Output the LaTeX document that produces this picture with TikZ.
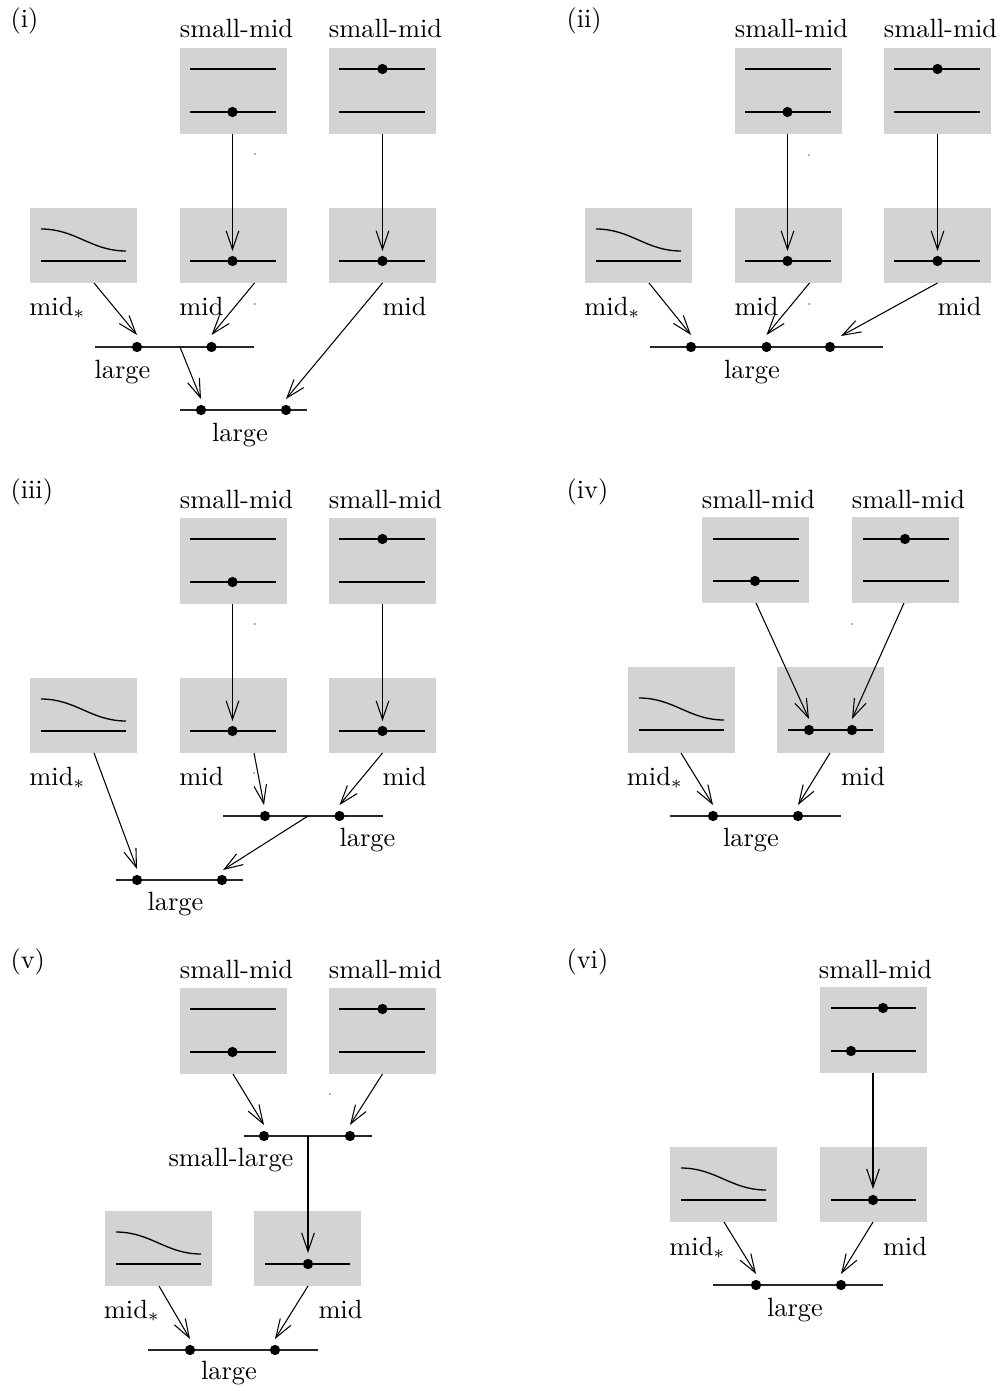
\documentclass[tikz,border=0pt]{standalone}
\usetikzlibrary{arrows.meta,calc}
\definecolor{boxgray}{RGB}{211,211,211}
\newcommand{\smrow}[3]{%
\begin{scope}[shift={(#2,#3)}]
\node[lab] (#1ta) at (236.5,38) {small-mid};
\node[lab] (#1tb) at (385.5,38) {small-mid};
\node[tallbox] (#1A) at (233.5,91) {};
\node[tallbox] (#1B) at (382.5,91) {};
\draw[hl] (190,69) -- (276,69) (190,112) -- (276,112) (339,69) -- (425,69) (339,112) -- (425,112);
\node[dotn] (#1Ad) at (232.5,112) {};
\node[dotn] (#1Bd) at (382.5,69) {};
\end{scope}}
\newcommand{\midrow}[3]{%
\begin{scope}[shift={(#2,#3)}]
\node[shortbox] (#1S) at (83.5,245.5) {};
\draw[hl] (41,229) .. controls (76,229) and (91,251) .. (126,251);
\draw[hl] (41,261) -- (126,261);
\node[shortbox] (#1M) at (233.5,245.5) {};
\node[shortbox] (#1N) at (382.5,245.5) {};
\draw[hl] (190,261) -- (276,261) (339,261) -- (425,261);
\node[dotn] (#1Md) at (232.5,261) {};
\node[dotn] (#1Nd) at (382.5,261) {};
\node[lab] (#1ls) at (57.5,315) {mid$_*$};
\node[lab] (#1lm) at (201.5,315) {mid};
\node[lab] (#1ln) at (404.5,315) {mid};
\end{scope}
\draw[arr] (#1A.south -| #1Ad) -- ($(#1Md)+(0,-10)$);
\draw[arr] (#1B.south -| #1Bd) -- ($(#1Nd)+(0,-10)$);}
\begin{document}
\begin{tikzpicture}[x=0.37879pt,y=-0.37879pt,
  gbox/.style={fill=boxgray,draw=none,inner sep=0pt,outer sep=0pt,minimum width=40.53pt},
  tallbox/.style={gbox,minimum height=32.58pt},
  shortbox/.style={gbox,minimum height=28.41pt},
  hl/.style={line width=0.5pt},
  ll/.style={line width=0.45pt,black!85},
  dotn/.style={circle,fill=black,inner sep=0pt,outer sep=0pt,minimum size=3.9pt},
  arr/.style={line width=0.4pt,-{Straight Barb[length=7pt,width=4.8pt]}},
  lab/.style={anchor=base,inner sep=0pt},
  plab/.style={anchor=base west,inner sep=0pt},
  speck/.style={fill=black!60}
]
\useasboundingbox (0,0) rectangle (1002,1391);

% ---------------- (i)
\node[plab] (p1) at (10,28) {(i)};
\smrow{i-}{0}{0}
\midrow{i-}{0}{0}
\draw[ll] (95,347) -- (254,347);
\node[dotn] (i-a) at (137,347) {};
\node[dotn] (i-b) at (211.5,347) {};
\coordinate (i-m) at (180,347);
\node[lab] (i-l1) at (122.5,378) {large};
\coordinate (i-Ss) at (94,283);
\coordinate (i-Ms) at (254.5,283);
\coordinate (i-Ns) at (382.5,283);
\draw[arr] (i-Ss) -- ($(i-a)+(0,-12)$);
\draw[arr] (i-Ms) -- ($(i-b)+(0,-12)$);
\draw[ll] (180,410) -- (307,410);
\node[dotn] (i-c) at (201,410) {};
\node[dotn] (i-d) at (286,410) {};
\node[lab] (i-l2) at (240,441) {large};
\draw[arr] (i-m) -- ($(i-c)+(0,-11)$);
\draw[arr] (i-Ns) -- ($(i-d)+(0,-11)$);
\fill[speck] (255,154) circle (0.35pt);
\fill[speck] (255,304) circle (0.35pt);

% ---------------- (ii)
\node[plab] (p2) at (566,28) {(ii)};
\smrow{ii-}{555}{0}
\midrow{ii-}{555}{0}
\draw[ll] (650,347) -- (883,347);
\node[dotn] (ii-a) at (691,347) {};
\node[dotn] (ii-b) at (766.5,347) {};
\node[dotn] (ii-c) at (830,347) {};
\node[lab] (ii-l1) at (752,378) {large};
\coordinate (ii-Ss) at (649,283);
\coordinate (ii-Ms) at (809.5,283);
\coordinate (ii-Ns) at (937.5,283);
\draw[arr] (ii-Ss) -- ($(ii-a)+(0,-12)$);
\draw[arr] (ii-Ms) -- ($(ii-b)+(0,-12)$);
\draw[arr] (ii-Ns) -- ($(ii-c)+(11,-11)$);
\fill[speck] (809,155) circle (0.35pt);
\fill[speck] (809,304) circle (0.35pt);

% ---------------- (iii)
\node[plab] (p3) at (10,498) {(iii)};
\smrow{iii-}{0}{470}
\midrow{iii-}{0}{470}
\draw[ll] (223,816) -- (383,816);
\node[dotn] (iii-a) at (265,816) {};
\node[dotn] (iii-b) at (339.5,816) {};
\coordinate (iii-m) at (308,816);
\node[lab] (iii-l1) at (367.5,846) {large};
\coordinate (iii-Ss) at (94,753);
\coordinate (iii-Ms) at (254,753);
\coordinate (iii-Ns) at (382.5,753);
\draw[arr] (iii-Ms) -- ($(iii-a)+(-1,-11)$);
\draw[arr] (iii-Ns) -- ($(iii-b)+(0,-11)$);
\draw[ll] (116,880) -- (243,880);
\node[dotn] (iii-c) at (137,880) {};
\node[dotn] (iii-d) at (222,880) {};
\node[lab] (iii-l2) at (175.5,910) {large};
\draw[arr] (iii-Ss) -- ($(iii-c)+(0,-11)$);
\draw[arr] (iii-m) -- ($(iii-d)+(1,-10)$);
\fill[speck] (255,624) circle (0.35pt);
\fill[speck] (254,773) circle (0.35pt);

% ---------------- (iv)
\node[plab] (p4) at (566,498) {(iv)};
\node[lab] (iv-ta) at (758.5,508) {small-mid};
\node[lab] (iv-tb) at (908.5,508) {small-mid};
\node[tallbox] (iv-A) at (755.5,560) {};
\node[tallbox] (iv-B) at (905.5,560) {};
\draw[hl] (713,539) -- (799,539) (713,581) -- (799,581) (863,539) -- (949,539) (863,581) -- (949,581);
\node[dotn] (iv-Ad) at (755,581) {};
\node[dotn] (iv-Bd) at (905,539) {};
\node[tallbox] (iv-S) at (681.5,710) {};
\draw[hl] (639,698) .. controls (674,698) and (689,720) .. (724,720);
\draw[hl] (639,730) -- (724,730);
\node[tallbox] (iv-M) at (830.5,710) {};
\draw[hl] (788,730) -- (873,730);
\node[dotn] (iv-p) at (809,730) {};
\node[dotn] (iv-q) at (852,730) {};
\coordinate (iv-As) at (756,603);
\coordinate (iv-Bs) at (904,603);
\draw[arr] (iv-As) -- ($(iv-p)+(0,-11)$);
\draw[arr] (iv-Bs) -- ($(iv-q)+(0,-11)$);
\node[lab] (iv-ls) at (655,785) {mid$_*$};
\node[lab] (iv-lm) at (863,785) {mid};
\draw[ll] (670,816) -- (841,816);
\node[dotn] (iv-a) at (713,816) {};
\node[dotn] (iv-b) at (798,816) {};
\node[lab] (iv-l1) at (751,846) {large};
\coordinate (iv-Ss) at (681,753);
\coordinate (iv-Ms) at (830,753);
\draw[arr] (iv-Ss) -- ($(iv-a)+(0,-11)$);
\draw[arr] (iv-Ms) -- ($(iv-b)+(0,-11)$);
\fill[speck] (852,624) circle (0.35pt);

% ---------------- (v)
\node[plab] (p5) at (10,968) {(v)};
\smrow{v-}{0}{940}
\draw[ll] (244,1136) -- (372,1136);
\node[dotn] (v-a) at (264,1136) {};
\node[dotn] (v-b) at (350,1136) {};
\coordinate (v-m) at (308,1136);
\node[lab] (v-sl) at (231,1166) {small-large};
\draw[arr] (v-A.south -| 233,0) -- ($(v-a)+(0,-11)$);
\draw[arr] (v-B.south -| v-Bd) -- ($(v-b)+(0,-11)$);
\node[shortbox] (v-S) at (158.5,1248.5) {};
\draw[hl] (116,1232) .. controls (151,1232) and (166,1254) .. (201,1254);
\draw[hl] (116,1264) -- (201,1264);
\node[shortbox] (v-M) at (307.5,1248.5) {};
\draw[hl] (265,1264) -- (350,1264);
\node[dotn] (v-Md) at (308,1264) {};
\draw[arr] (v-m) -- ($(v-Md)+(0,-11)$);
\node[lab] (v-ls) at (132,1318) {mid$_*$};
\node[lab] (v-lm) at (340.5,1318) {mid};
\draw[ll] (148,1350) -- (318,1350);
\node[dotn] (v-c) at (190,1350) {};
\node[dotn] (v-d) at (275,1350) {};
\node[lab] (v-l1) at (229,1379) {large};
\coordinate (v-Ss) at (159,1286);
\coordinate (v-Ms) at (308,1286);
\draw[arr] (v-Ss) -- ($(v-c)+(0,-11)$);
\draw[arr] (v-Ms) -- ($(v-d)+(0,-11)$);
\fill[speck] (330,1094) circle (0.35pt);

% ---------------- (vi)
\node[plab] (p6) at (566,968) {(vi)};
\node[lab] (vi-ta) at (875.5,978) {small-mid};
\node[tallbox] (vi-A) at (873.5,1030) {};
\draw[hl] (831,1008) -- (916,1008) (831,1051) -- (916,1051);
\node[dotn] (vi-d1) at (883,1008) {};
\node[dotn] (vi-d2) at (851,1051) {};
\node[shortbox] (vi-S) at (723.5,1184.5) {};
\draw[hl] (681,1168) .. controls (716,1168) and (731,1190) .. (766,1190);
\draw[hl] (681,1200) -- (766,1200);
\node[shortbox] (vi-M) at (873.5,1184.5) {};
\draw[hl] (831,1200) -- (916,1200);
\node[dotn] (vi-Md) at (873,1200) {};
\draw[arr] (vi-A.south -| vi-Md) -- ($(vi-Md)+(0,-11)$);
\node[lab] (vi-ls) at (697.5,1255) {mid$_*$};
\node[lab] (vi-lm) at (905,1255) {mid};
\draw[ll] (713,1285) -- (883,1285);
\node[dotn] (vi-a) at (756,1285) {};
\node[dotn] (vi-b) at (841,1285) {};
\node[lab] (vi-l1) at (795,1316) {large};
\coordinate (vi-Ss) at (724,1222);
\coordinate (vi-Ms) at (873,1222);
\draw[arr] (vi-Ss) -- ($(vi-a)+(0,-11)$);
\draw[arr] (vi-Ms) -- ($(vi-b)+(0,-11)$);
\end{tikzpicture}
\end{document}
